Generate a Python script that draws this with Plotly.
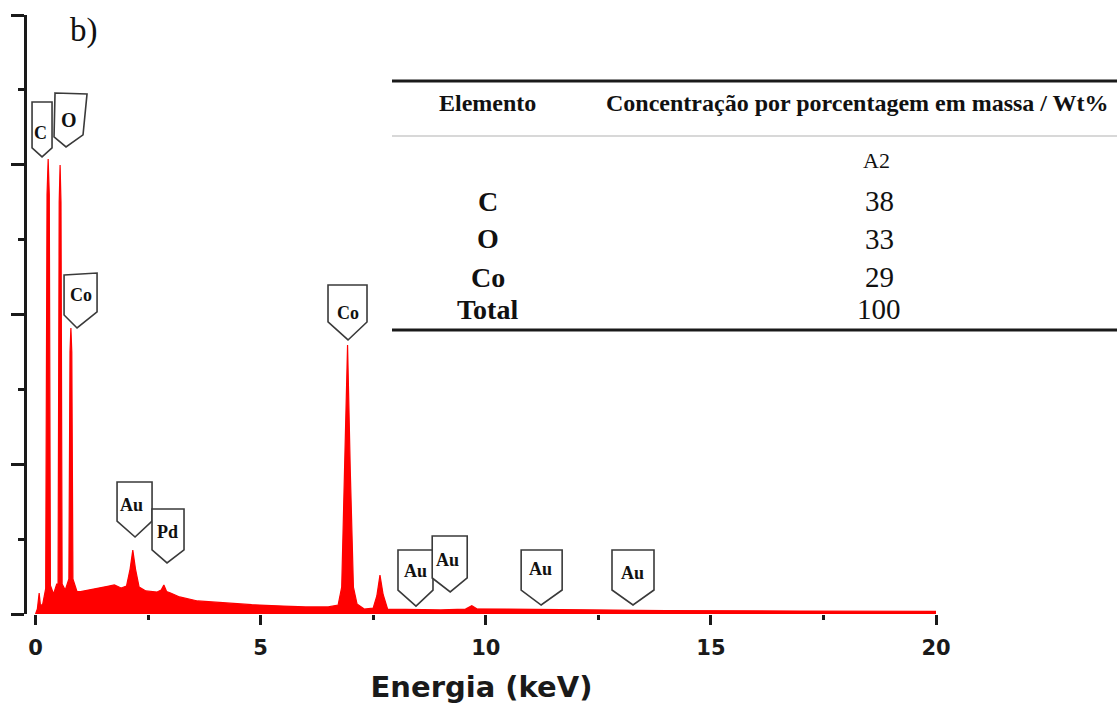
import plotly.graph_objects as go

# ---------------- data ----------------
energy_keV = [0.0, 0.04, 0.08, 0.11, 0.16, 0.225, 0.255, 0.28, 0.305, 0.33, 0.40, 0.47,
              0.50, 0.525, 0.545, 0.565, 0.59, 0.66, 0.74, 0.765, 0.785, 0.805, 0.83,
              0.92, 1.0, 1.2, 1.4, 1.6, 1.75, 1.9, 2.02, 2.1, 2.16, 2.22, 2.3, 2.45,
              2.7, 2.79, 2.85, 2.91, 3.0, 3.2, 3.6, 4.2, 4.8, 5.5, 6.0, 6.5, 6.72,
              6.80, 6.87, 6.93, 6.99, 7.06, 7.14, 7.3, 7.5, 7.58, 7.65, 7.72, 7.82,
              8.5, 9.0, 9.55, 9.69, 9.8, 10.5, 12.0, 14.0, 17.0, 20.0]
counts = [0, 33, 140, 53, 67, 170, 2800, 3038, 2800, 190, 134, 200,
          200, 2750, 2998, 2750, 200, 160, 234, 1750, 1910, 1750, 234,
          150, 150, 160, 170, 185, 194, 174, 187, 300, 427, 300, 180, 154,
          147, 160, 194, 150, 140, 114, 87, 73, 62, 53, 47, 47, 60,
          180, 962, 1796, 962, 180, 67, 33, 40, 120, 260, 130, 33,
          27, 27, 33, 55, 35, 33, 27, 23, 20, 17]

peak_labels = ["C", "O", "Co", "Co", "Au", "Pd", "Au", "Au", "Au", "Au"]
peak_label_keV = [0.144, 0.677, 0.922, 6.94, 2.21, 2.92, 8.45, 9.21, 11.23, 13.27]
peak_label_counts = [3052, 3119, 1910, 1830, 514, 341, 53, 147, 60, 60]

table_header = ["Elemento", "Concentração por porcentagem em massa / Wt%"]
table_sample = "A2"
table_elements = ["C", "O", "Co", "Total"]
table_wt = [38, 33, 29, 100]

x_tick_vals = [0, 5, 10, 15, 20]

# ---------------- layout geometry (pixels) ----------------
W, H = 1117, 706
ML, MR, MT, MB = 27, 181, 15, 92
PW, PH = W - ML - MR, H - MT - MB


def pxx(x):
    return (x - ML) / PW


def pxy(y):
    return (MT + PH - y) / PH


# shield outlines relative to tip (dx, dy up), and text offsets
shield_geom = [
    dict(pts=[(-10, 55), (10, 55), (10, 9), (0, 0), (-10, 9)], t=(-2, 24), fs=18),
    dict(pts=[(-11, 54), (21, 53), (17, 12), (0, 0), (-12, 10)], t=(3, 27), fs=20),
    dict(pts=[(-13, 53), (20, 55), (20, 16), (0, 0), (-13, 13)], t=(4, 33), fs=18),
    dict(pts=[(-20, 55), (19, 55), (19, 18), (0, 0), (-20, 18)], t=(0, 27), fs=18),
    dict(pts=[(-18, 55), (17, 55), (17, 16), (0, 0), (-18, 16)], t=(-4, 32), fs=18),
    dict(pts=[(-15, 54), (17, 54), (17, 13), (0, 0), (-15, 13)], t=(0, 31), fs=18),
    dict(pts=[(-18, 56), (17, 56), (17, 16), (0, 0), (-18, 16)], t=(0, 35), fs=18),
    dict(pts=[(-18, 56), (17, 56), (17, 14), (0, 0), (-18, 14)], t=(-3, 32), fs=18),
    dict(pts=[(-20, 55), (21, 55), (21, 15), (0, 0), (-20, 15)], t=(-1, 36), fs=18),
    dict(pts=[(-21, 55), (21, 55), (21, 15), (0, 0), (-21, 15)], t=(-1, 32), fs=18),
]

SERIF = "Liberation Serif, Times New Roman, serif"
SANS = "DejaVu Sans, Arial, sans-serif"

fig = go.Figure()
fig.add_trace(go.Scatter(
    x=energy_keV, y=counts, mode="lines", fill="tozeroy",
    fillcolor="#ff0000", line=dict(color="#ff0000", width=1.2),
    hoverinfo="skip", showlegend=False,
))

shapes = []
annotations = []

for lab, ex, cy, g in zip(peak_labels, peak_label_keV, peak_label_counts, shield_geom):
    pts = g["pts"]
    path = "M " + " L ".join(f"{dx},{dy}" for dx, dy in pts) + " Z"
    shapes.append(dict(
        type="path", xref="x", yref="y", xsizemode="pixel", ysizemode="pixel",
        xanchor=ex, yanchor=cy, path=path, fillcolor="white",
        line=dict(color="#3a3a3a", width=1.6), layer="above",
    ))
    annotations.append(dict(
        x=ex, y=cy, xref="x", yref="y", text=lab, showarrow=False,
        xshift=g["t"][0], yshift=g["t"][1], xanchor="center", yanchor="middle",
        font=dict(family=SERIF, size=g["fs"], color="#111", weight="bold"),
    ))

# panel label
annotations.append(dict(x=pxx(84), y=pxy(30), xref="paper", yref="paper", text="b)",
                        showarrow=False, xanchor="center", yanchor="middle",
                        font=dict(family=SERIF, size=33, color="#111")))

# table lines
for yline, col, lw in [(81, "#1a1a1a", 3), (136, "#d8d8d8", 2), (330, "#1a1a1a", 3)]:
    shapes.append(dict(type="line", xref="paper", yref="paper",
                       x0=pxx(392), x1=pxx(1117), y0=pxy(yline), y1=pxy(yline),
                       line=dict(color=col, width=lw)))

# table header
annotations.append(dict(x=pxx(487), y=pxy(103), xref="paper", yref="paper",
                        text=table_header[0], showarrow=False, xanchor="center", yanchor="middle",
                        font=dict(family=SERIF, size=24, color="#111", weight="bold")))
annotations.append(dict(x=pxx(857), y=pxy(103), xref="paper", yref="paper",
                        text=table_header[1], showarrow=False, xanchor="center", yanchor="middle",
                        font=dict(family=SERIF, size=24, color="#111", weight="bold")))
annotations.append(dict(x=pxx(876), y=pxy(160), xref="paper", yref="paper",
                        text=table_sample, showarrow=False, xanchor="center", yanchor="middle",
                        font=dict(family=SERIF, size=22, color="#111")))

row_y = [201, 239, 277, 309]
for el, val, ry in zip(table_elements, table_wt, row_y):
    annotations.append(dict(x=pxx(488), y=pxy(ry), xref="paper", yref="paper",
                            text=el, showarrow=False, xanchor="center", yanchor="middle",
                            font=dict(family=SERIF, size=28, color="#111", weight="bold")))
    annotations.append(dict(x=pxx(879), y=pxy(ry), xref="paper", yref="paper",
                            text=str(val), showarrow=False, xanchor="center", yanchor="middle",
                            font=dict(family=SERIF, size=29, color="#111")))

fig.update_layout(
    width=W, height=H,
    margin=dict(l=ML, r=MR, t=MT, b=MB, pad=0, autoexpand=False),
    paper_bgcolor="white", plot_bgcolor="white",
    showlegend=False,
    shapes=shapes, annotations=annotations,
    xaxis=dict(
        range=[-0.19, 20.0], showgrid=False, zeroline=False, showline=False,
        automargin=False,
        ticks="outside", ticklen=10, tickwidth=2.5, tickcolor="#1a1a1a",
        tickvals=x_tick_vals, ticktext=[str(v) for v in x_tick_vals],
        tickfont=dict(family=SANS, size=21, color="#1a1a1a", weight="bold"),
        ticklabelstandoff=5,
        minor=dict(dtick=2.5, tick0=0, ticks="outside", ticklen=5, tickwidth=2.5, tickcolor="#1a1a1a"),
        title=dict(text="Energia (keV)", standoff=17,
                   font=dict(family=SANS, size=29, color="#1a1a1a", weight="bold")),
    ),
    yaxis=dict(
        range=[0, 4000], showgrid=False, zeroline=False, automargin=False,
        showline=True, linewidth=2.5, linecolor="#1a1a1a",
        ticks="outside", ticklen=13, tickwidth=2.5, tickcolor="#1a1a1a",
        dtick=1000, tick0=0, showticklabels=False,
        minor=dict(dtick=500, tick0=0, ticks="outside", ticklen=6, tickwidth=2.5, tickcolor="#1a1a1a"),
    ),
)

fig.write_html("out.html")
